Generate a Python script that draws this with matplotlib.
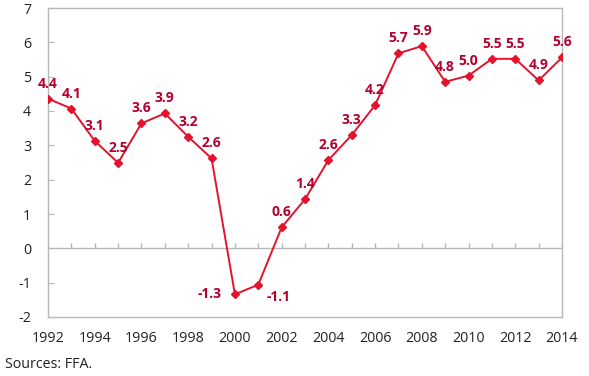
import matplotlib
matplotlib.use("Agg")
import matplotlib.pyplot as plt

plt.rcParams["font.family"] = ["Open Sans", "DejaVu Sans"]

years = list(range(1992, 2015))
values = [4.36, 4.07, 3.13, 2.49, 3.64, 3.93, 3.25, 2.62, -1.34, -1.06,
          0.61, 1.43, 2.57, 3.30, 4.17, 5.68, 5.89, 4.85, 5.03, 5.52,
          5.52, 4.89, 5.56]
xtick_years = list(range(1992, 2015, 2))
yticks = list(range(-2, 8))
source_text = "Sources: FFA."

line_color = "#e3122d"
label_color = "#b4002e"
frame_color = "#b8b8b8"

fig = plt.figure(figsize=(5.89, 3.76), dpi=100)
ax = fig.add_axes([48 / 589, 1 - 317 / 376, (562 - 48) / 589, (317 - 8) / 376])

ax.plot(years, values, color=line_color, lw=1.4, marker="D", ms=3.6,
        markerfacecolor=line_color, markeredgecolor=line_color, zorder=3)

# zero line with small upward ticks at each year
ax.axhline(0, color=frame_color, lw=1, zorder=1)
ax.vlines(years, 0, 0.16, color=frame_color, lw=1, zorder=1)

# data labels
for x, v in zip(years, values):
    txt = f"{v:.1f}"
    if x == 2000:
        off = (-18, 0)
    elif x == 2001:
        off = (14.5, -8.5)
    else:
        off = (0, 10.8)
    ax.annotate(txt, (x, v), xytext=off, textcoords="offset points",
                ha="center", va="center", fontsize=10, fontweight="bold",
                color=label_color, zorder=4)

ax.set_xlim(1992, 2014)
ax.set_ylim(-2, 7)
ax.set_xticks(xtick_years)
ax.set_xticklabels([str(y) for y in xtick_years])
ax.set_yticks(yticks)
ax.set_yticklabels([str(t) for t in yticks])

for s in ax.spines.values():
    s.set_color(frame_color)
    s.set_linewidth(1)

ax.tick_params(axis="y", direction="in", length=4, color=frame_color,
               labelsize=10.3, pad=12, labelcolor="#222222")
ax.tick_params(axis="x", length=0, labelsize=10.3, pad=10, labelcolor="#222222")

fig.text(5 / 589, 1 - 365 / 376, source_text, fontsize=10.3, color="#222222",
         ha="left", va="center")

fig.savefig("out.png", dpi=100)
